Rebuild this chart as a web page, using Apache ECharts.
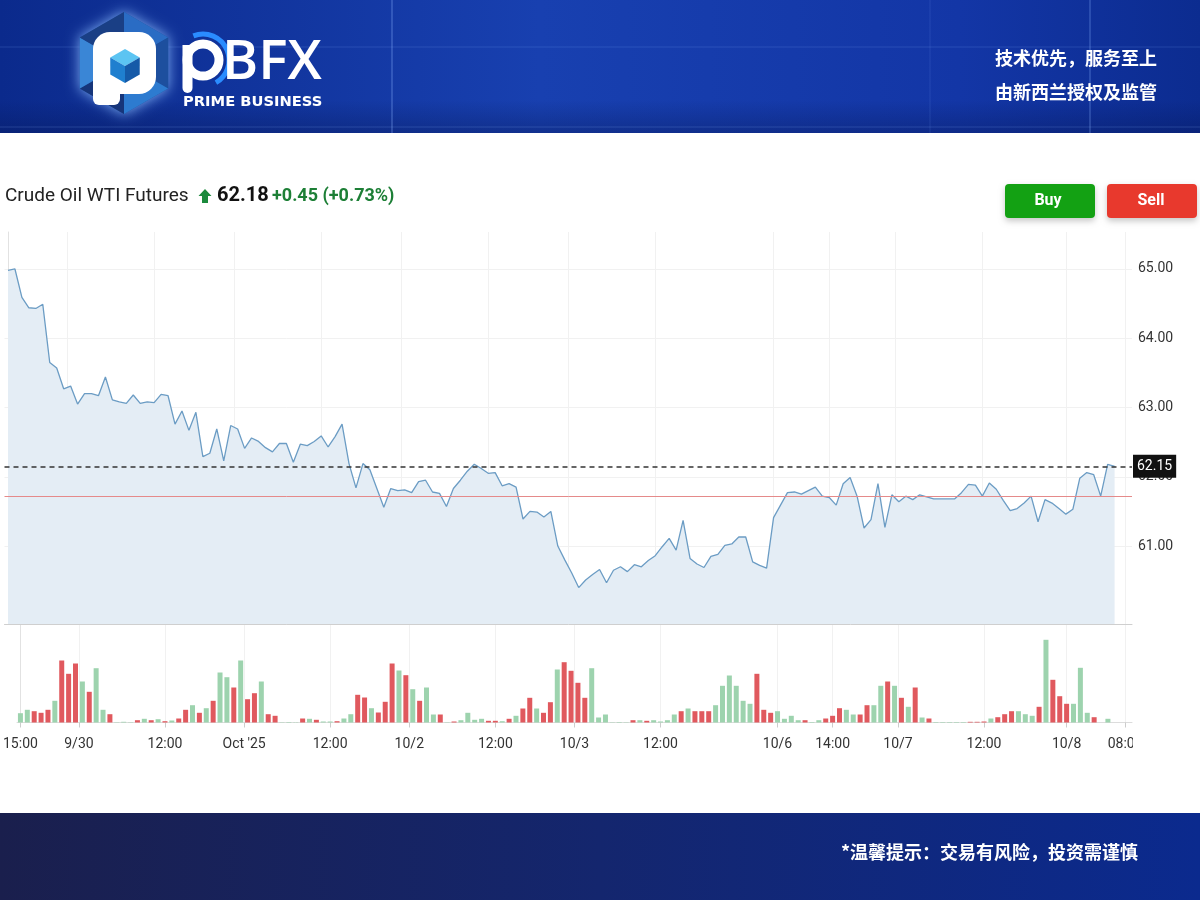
<!DOCTYPE html>
<html>
<head>
<meta charset="utf-8">
<script src="https://cdn.jsdelivr.net/npm/echarts@6/dist/echarts.min.js"></script>
<style>
html,body{margin:0;padding:0;background:#fff;}
#chart{width:1200px;height:900px;}
</style>
</head>
<body>
<div id="chart"></div>
<script>
// ---------- DATA ----------
const titleText = 'Crude Oil WTI Futures';
const quotePrice = '62.18';
const quoteChange = '+0.45 (+0.73%)';
const headerLines = ['技术优先，服务至上', '由新西兰授权及监管'];
const footerText = '*温馨提示：交易有风险，投资需谨慎';
const prevClose = 61.72;

// hourly closes (bar index order)
const prices = [
 64.98,65.00,64.59,64.44,64.43,64.49,63.65,63.57,63.27,63.31,
 63.05,63.20,63.20,63.17,63.44,63.11,63.08,63.06,63.18,63.06,
 63.08,63.07,63.19,63.17,62.76,62.95,62.67,62.93,62.29,62.34,
 62.69,62.23,62.74,62.69,62.41,62.56,62.51,62.42,62.36,62.48,
 62.48,62.21,62.47,62.45,62.51,62.59,62.43,62.58,62.76,62.19,
 61.84,62.19,62.10,61.83,61.56,61.83,61.80,61.81,61.77,61.93,
 61.95,61.78,61.76,61.57,61.83,61.95,62.08,62.18,62.12,62.05,
 62.06,61.87,61.90,61.85,61.39,61.50,61.49,61.42,61.50,61.00,
 60.80,60.61,60.40,60.51,60.59,60.66,60.47,60.65,60.70,60.63,
 60.73,60.70,60.79,60.86,60.99,61.11,60.94,61.37,60.82,60.74,
 60.69,60.85,60.88,61.01,61.03,61.13,61.13,60.77,60.72,60.68,
 61.41,61.59,61.77,61.78,61.75,61.80,61.85,61.72,61.70,61.59,
 61.90,61.99,61.72,61.26,61.38,61.90,61.27,61.74,61.64,61.72,
 61.67,61.74,61.71,61.68,61.68,61.68,61.68,61.77,61.89,61.88,
 61.72,61.91,61.82,61.66,61.51,61.54,61.62,61.72,61.35,61.67,
 61.62,61.54,61.46,61.53,61.98,62.06,62.03,61.72,62.18,62.15
];
// hourly volume (thousand contracts, estimated)
const volumes = [
 9.3,12.7,11.3,9.7,12.7,21.7,62,48.7,59,41,
 30.7,54.3,12.7,8.3,0.3,0.7,0.3,2.3,3.7,2.3,
 3.3,1.3,2,4,12.7,17.3,9.7,14.3,21.7,50,
 45.3,35,62,23.3,29.3,41,8.3,6.7,0.3,0.5,
 0.3,4,3.7,2.7,1,1,1.3,4,8.3,27.7,
 25,14.3,10,20.7,59,52,47.3,33.3,21.7,35,
 8,8,0.3,1,2.3,9.7,2.7,3.7,1.7,1.7,
 1.3,3.7,6.7,14,24.7,14,9.7,20.3,53,60.3,
 51.7,39.7,24.7,54.3,5,8,0.3,0.5,0.3,2.3,
 2.3,1.7,2.3,1,2.3,8,11.3,14,11.3,11.3,
 11.3,17.3,36.7,47,36.7,21.7,18.7,48.7,12.7,9.7,
 11.3,3.7,6.7,2.3,2.3,0.5,2.3,4,6.7,14.3,
 12.7,8,8,17.3,17.3,36.7,41,36.7,24.7,15.7,
 35,5,4,0.5,0.5,0.5,0.5,0.5,0.7,0.7,
 1,4,5.3,8.3,11.3,11.3,8.3,6.7,15.7,82.7,
 42.7,26.3,18.7,18.7,54.7,9.7,5.3,0,3.7,0
];
// bar direction: G = up, R = down
const volumeDir = (
 'GGRRRGRRRG' + 'RGGRGGGRGR' + 'GRGRRGRGRG' + 'GRGRRGRRGG' + 'GRGRGGRGGR' +
 'RGRRRGRGRG' + 'GRGRGGGGRR' + 'GRGRRGRRGR' + 'RRRGGGGGGR' + 'GRGGGGRGRR' +
 'RGGGGGGRRR' + 'GGGGRGGRRR' + 'GGRRGGRGRG' + 'RGRGGGGGRR' + 'RGRRRGGGRG' +
 'RRRGGGRGGG').split('');

// x-axis tick labels and their bar-index positions
const tickIndex = [0, 8.5, 21, 32.5, 45, 56.5, 69, 80.5, 93, 110, 118, 127.5, 140, 152, 160.5];
const tickText  = ['15:00','9/30','12:00',"Oct '25",'12:00','10/2','12:00','10/3','12:00','10/6','14:00','10/7','12:00','10/8','08:00'];
const priceTicks = [61, 62, 63, 64, 65];

// ---------- CHART ----------
const lastPrice = prices[prices.length - 1];
const barCount = 162;
const UP = '#9dd3ae', DOWN = '#e0595e';

function txt(text, x, y, font, fill, align) {
  return {type:'text', silent:true, z:100, style:{text:text, x:x, y:y, font:font, fill:fill,
    textAlign:align||'left', align:align||'left', textVerticalAlign:'middle', verticalAlign:'middle'}};
}
function hexPts(cx, cy, r) {
  const p = [];
  for (let k = 0; k < 6; k++) { const a = Math.PI/180*(-90 + 60*k); p.push([cx + r*Math.cos(a), cy + r*Math.sin(a)]); }
  return p;
}
const hx = hexPts(124, 63, 51);
const facetCols = ['#2a6cc4','#1d4f9e','#2d7bd0','#16357a','#3a86d6','#1a3f85'];
const facets = facetCols.map((c, k) => ({type:'polygon', silent:true, z:20,
  shape:{points:[[124,63], hx[k], hx[(k+1)%6]]}, style:{fill:c}}));
const cube = hexPts(125, 66, 17);

const graphics = [
  // header
  {type:'rect', silent:true, z:10, shape:{x:0,y:0,width:1200,height:133},
   style:{fill:{type:'linear',x:0,y:0,x2:1,y2:0,colorStops:[
     {offset:0,color:'#0b2a8c'},{offset:0.45,color:'#1840b0'},{offset:0.8,color:'#1336a6'},{offset:1,color:'#0c2c90'}]}}},
  {type:'rect', silent:true, z:11, shape:{x:0,y:100,width:1200,height:33},
   style:{fill:{type:'linear',x:0,y:0,x2:0,y2:1,colorStops:[{offset:0,color:'rgba(5,20,80,0)'},{offset:1,color:'rgba(5,20,80,0.35)'}]}}},
  {type:'line', silent:true, z:12, shape:{x1:392,y1:0,x2:392,y2:133}, style:{stroke:'rgba(140,180,255,0.25)',lineWidth:2}},
  {type:'line', silent:true, z:12, shape:{x1:1090,y1:0,x2:1090,y2:133}, style:{stroke:'rgba(140,180,255,0.22)',lineWidth:2}},
  {type:'line', silent:true, z:12, shape:{x1:930,y1:0,x2:930,y2:133}, style:{stroke:'rgba(140,180,255,0.15)',lineWidth:1}},
  {type:'line', silent:true, z:12, shape:{x1:0,y1:47,x2:1200,y2:47}, style:{stroke:'rgba(140,180,255,0.18)',lineWidth:1}},
  {type:'line', silent:true, z:12, shape:{x1:0,y1:127,x2:1200,y2:127}, style:{stroke:'rgba(140,180,255,0.2)',lineWidth:1}},
  // logo hexagon
  {type:'polygon', silent:true, z:19, shape:{points:hx}, style:{fill:'#1d4f9e', shadowBlur:14, shadowColor:'rgba(140,190,255,0.9)'}},
  ...facets,
  {type:'rect', silent:true, z:21, shape:{x:93,y:32,width:63,height:62,r:[17,17,17,4]}, style:{fill:'#ffffff'}},
  {type:'rect', silent:true, z:21, shape:{x:93,y:60,width:27,height:45,r:[0,0,6,6]}, style:{fill:'#ffffff'}},
  {type:'polygon', silent:true, z:22, shape:{points:[cube[0],cube[1],[125,66],cube[5]]}, style:{fill:'#5cc4f2'}},
  {type:'polygon', silent:true, z:22, shape:{points:[cube[5],[125,66],cube[3],cube[4]]}, style:{fill:'#1f7fcf'}},
  {type:'polygon', silent:true, z:22, shape:{points:[[125,66],cube[1],cube[2],cube[3]]}, style:{fill:'#155aa8'}},
  // logo letters
  {type:'arc', silent:true, z:21, shape:{cx:203,cy:60,r:26,startAngle:-1.95,endAngle:1.05}, style:{stroke:'#2a8cff',lineWidth:5,fill:'none'}},
  {type:'circle', silent:true, z:22, shape:{cx:203,cy:60,r:16}, style:{fill:'none',stroke:'#ffffff',lineWidth:9}},
  {type:'rect', silent:true, z:22, shape:{x:182.5,y:45,width:10,height:48,r:[0,0,5,5]}, style:{fill:'#ffffff'}},
  txt('BFX', 222, 63, '600 55px "Open Sans"', '#ffffff'),
  txt('PRIME BUSINESS', 183, 102, 'bold 14.7px "DejaVu Sans"', '#ffffff'),
  txt(headerLines[0], 1157, 58, 'bold 18px "Noto Sans CJK SC"', '#ffffff', 'right'),
  txt(headerLines[1], 1157, 92, 'bold 18px "Noto Sans CJK SC"', '#ffffff', 'right'),
  // title row
  txt(titleText, 5, 196, '19px Roboto', '#222222'),
  {type:'polygon', silent:true, z:100, shape:{points:[[205,189],[211.5,196],[208,196],[208,203],[202,203],[202,196],[198.5,196]]}, style:{fill:'#1b8a3c'}},
  txt(quotePrice, 217, 196, 'bold 20px Roboto', '#111111'),
  txt(quoteChange, 272, 196, 'bold 18px Roboto', '#1d7f36'),
  // buttons
  {type:'rect', silent:true, z:100, shape:{x:1005,y:184,width:90,height:34,r:4},
   style:{fill:'#13a113', shadowBlur:6, shadowOffsetY:3, shadowColor:'rgba(0,0,0,0.22)'}},
  {type:'rect', silent:true, z:100, shape:{x:1107,y:184,width:90,height:34,r:4},
   style:{fill:'#e8392d', shadowBlur:6, shadowOffsetY:3, shadowColor:'rgba(0,0,0,0.22)'}},
  txt('Buy', 1048, 201, 'bold 16px Roboto', '#ffffff', 'center'),
  txt('Sell', 1151, 201, 'bold 16px Roboto', '#ffffff', 'center'),
  // right edge of the time-label strip is clipped in the original
  {type:'rect', silent:true, z:90, shape:{x:1133,y:730,width:67,height:30}, style:{fill:'#ffffff'}},
  // footer
  {type:'rect', silent:true, z:10, shape:{x:0,y:813,width:1200,height:87},
   style:{fill:{type:'linear',x:0,y:0,x2:1,y2:0,colorStops:[
     {offset:0,color:'#1a1f4d'},{offset:0.5,color:'#14266e'},{offset:1,color:'#0b2a8e'}]}}},
  txt(footerText, 1138, 852, 'bold 18px "Noto Sans CJK SC"', '#ffffff', 'right')
];

const chart = echarts.init(document.getElementById('chart'), null, {renderer:'canvas'});
const labelFor = v => { const k = tickIndex.indexOf(v); return k >= 0 ? tickText[k] : ''; };

chart.setOption({
  animation:false,
  backgroundColor:'#ffffff',
  textStyle:{fontFamily:'Roboto'},
  graphic:{elements:graphics},
  grid:[
    {left:4.5, right:68, top:232, height:392},
    {left:4.5, right:68, top:622.5, height:100}
  ],
  xAxis:[
    {type:'value', gridIndex:0, min:-0.5, max:barCount-0.5,
     axisLine:{show:true, onZero:false, lineStyle:{color:'#cfcfcf'}},
     axisTick:{show:false, customValues:tickIndex},
     axisLabel:{show:false, customValues:tickIndex},
     splitLine:{show:true, lineStyle:{color:'#f1f1f1'}}},
    {type:'value', gridIndex:1, min:-0.5, max:barCount-0.5,
     axisLine:{show:true, onZero:false, lineStyle:{color:'#dcdcdc'}},
     axisTick:{show:true, length:5, lineStyle:{color:'#cccccc'}, customValues:tickIndex},
     axisLabel:{customValues:tickIndex, formatter:labelFor, color:'#333', fontSize:14, margin:15, fontFamily:'Roboto',
                showMinLabel:true, showMaxLabel:true, hideOverlap:false, alignMinLabel:'center', alignMaxLabel:'center'},
     splitLine:{show:true, lineStyle:{color:'#f1f1f1'}}}
  ],
  yAxis:[
    {type:'value', gridIndex:0, position:'right', min:59.874, max:65.534, scale:true,
     axisLine:{show:true, lineStyle:{color:'#e2e2e2'}},
     axisTick:{show:false, customValues:priceTicks},
     axisLabel:{customValues:priceTicks, formatter:v => v.toFixed(2), color:'#333', fontSize:14, margin:6, fontFamily:'Roboto'},
     splitLine:{show:true, lineStyle:{color:'#f1f1f1'}}},
    {type:'value', gridIndex:1, position:'right', min:0, max:100,
     axisLine:{show:true, lineStyle:{color:'#e2e2e2'}},
     axisTick:{show:false}, axisLabel:{show:false}, splitLine:{show:false}}
  ],
  series:[
    {type:'line', xAxisIndex:0, yAxisIndex:0, showSymbol:false, symbol:'none',
     data:prices.map((v,i)=>[i,v]),
     lineStyle:{color:'#6b9cc4', width:1.3},
     areaStyle:{color:'#e4edf5', opacity:1, origin:'start'},
     markLine:{silent:true, symbol:['none','none'], animation:false,
       data:[
         {yAxis:prevClose, lineStyle:{color:'#e58a8a', width:1, type:'solid'}, label:{show:false}},
         {yAxis:lastPrice, lineStyle:{color:'#333', width:1.5, type:[5,4]},
          label:{show:true, position:'end', distance:1, formatter:lastPrice.toFixed(2),
                 backgroundColor:'#111', color:'#fff', padding:[5,4,4,4], fontSize:14, fontFamily:'Roboto'}}
       ]}},
    {type:'bar', xAxisIndex:1, yAxisIndex:1, barWidth:5,
     data:volumes.map((v,i)=>({value:[i,v], itemStyle:{color: volumeDir[i]==='G' ? UP : DOWN}}))}
  ]
});
</script>
</body>
</html>
